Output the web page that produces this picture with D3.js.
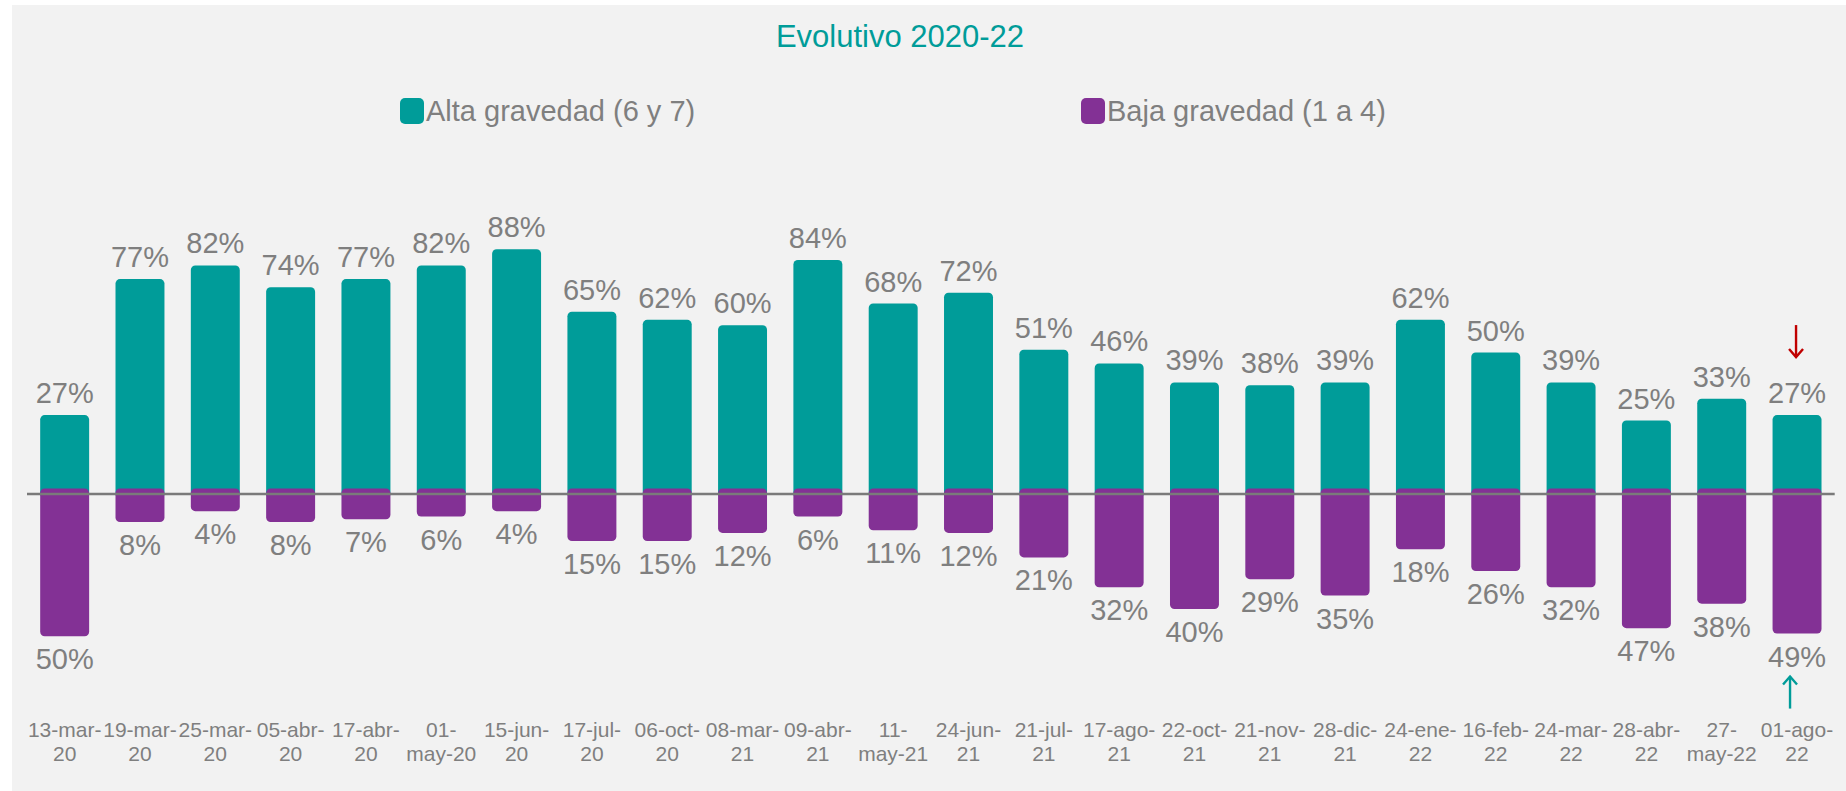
<!DOCTYPE html>
<html>
<head>
<meta charset="utf-8">
<script src="https://cdn.jsdelivr.net/npm/d3@7"></script>
<style>
  body { margin: 0; background: #ffffff; }
  svg { display: block; font-family: "Liberation Sans", Arial, sans-serif; }
</style>
</head>
<body>
<svg width="1846" height="791"></svg>
<script>
var svg = d3.select('svg');

// Data
var categories = ["13-mar-20", "19-mar-20", "25-mar-20", "05-abr-20", "17-abr-20", "01-may-20",
  "15-jun-20", "17-jul-20", "06-oct-20", "08-mar-21", "09-abr-21", "11-may-21", "24-jun-21",
  "21-jul-21", "17-ago-21", "22-oct-21", "21-nov-21", "28-dic-21", "24-ene-22", "16-feb-22",
  "24-mar-22", "28-abr-22", "27-may-22", "01-ago-22"];
var alta = [27, 77, 82, 74, 77, 82, 88, 65, 62, 60, 84, 68, 72, 51, 46, 39, 38, 39, 62, 50, 39, 25, 33, 27];
var baja = [50, 8, 4, 8, 7, 6, 4, 15, 15, 12, 6, 11, 12, 21, 32, 40, 29, 35, 18, 26, 32, 47, 38, 49];
var seriesNames = ["Alta gravedad (6 y 7)", "Baja gravedad (1 a 4)"];
var title = "Evolutivo 2020-22";

var teal = "#009c99";
var purple = "#833195";
var gray = "#7f7f7f";

// Background panel
svg.append("rect")
  .attr("x", 12).attr("y", 5)
  .attr("width", 1834).attr("height", 786)
  .attr("fill", "#f2f2f2");

// Scales
var x = d3.scaleBand()
  .domain(categories)
  .range([27, 1834.7])
  .paddingInner(0.35)
  .paddingOuter(0.175);

var yUp = d3.scaleLinear().domain([0, 100]).range([488.5, 216.5]);
var yDown = d3.scaleLinear().domain([0, 100]).range([500.3, 772.3]);

var data = categories.map((c, i) => ({ cat: c, alta: alta[i], baja: baja[i] }));

// Title
svg.append("text")
  .attr("x", 900).attr("y", 47)
  .attr("text-anchor", "middle")
  .attr("fill", teal)
  .style("font-size", "31px")
  .text(title);

// Legend
var legend = svg.selectAll(".legend")
  .data(seriesNames)
  .enter().append("g")
  .attr("class", "legend")
  .attr("transform", (d, i) => "translate(" + [400, 1081][i] + ",98)");

legend.append("rect")
  .attr("width", 24).attr("height", 26)
  .attr("rx", 5)
  .attr("fill", (d, i) => i === 0 ? teal : purple);

legend.append("text")
  .attr("x", 26).attr("y", 22.5)
  .attr("fill", gray)
  .style("font-size", "29px")
  .text(d => d);

// Teal bars (upwards)
svg.selectAll(".alta")
  .data(data)
  .enter().append("rect")
  .attr("class", "alta")
  .attr("x", d => x(d.cat))
  .attr("width", x.bandwidth())
  .attr("y", d => yUp(d.alta))
  .attr("height", d => yUp(0) - yUp(d.alta) + 10)
  .attr("rx", 4.5)
  .attr("fill", teal);

// Purple bars (downwards)
svg.selectAll(".baja")
  .data(data)
  .enter().append("rect")
  .attr("class", "baja")
  .attr("x", d => x(d.cat))
  .attr("width", x.bandwidth())
  .attr("y", yUp(0))
  .attr("height", d => yDown(d.baja) - yUp(0))
  .attr("rx", 4.5)
  .attr("fill", purple);

// Zero line
svg.append("line")
  .attr("x1", x.range()[0]).attr("x2", x.range()[1])
  .attr("y1", 494).attr("y2", 494)
  .attr("stroke", "#7a7a7a")
  .attr("stroke-width", 2.5);

// Value labels
svg.selectAll(".altaLabel")
  .data(data)
  .enter().append("text")
  .attr("class", "altaLabel")
  .attr("x", d => x(d.cat) + x.bandwidth() / 2)
  .attr("y", d => yUp(d.alta) - 12)
  .attr("text-anchor", "middle")
  .attr("fill", gray)
  .style("font-size", "29px")
  .text(d => d.alta + "%");

svg.selectAll(".bajaLabel")
  .data(data)
  .enter().append("text")
  .attr("class", "bajaLabel")
  .attr("x", d => x(d.cat) + x.bandwidth() / 2)
  .attr("y", d => yDown(d.baja) + 33)
  .attr("text-anchor", "middle")
  .attr("fill", gray)
  .style("font-size", "29px")
  .text(d => d.baja + "%");

// Category labels, wrapped in two lines like the original
var catLabels = svg.selectAll(".catLabel")
  .data(data)
  .enter().append("text")
  .attr("class", "catLabel")
  .attr("text-anchor", "middle")
  .attr("fill", gray)
  .style("font-size", "21px");

catLabels.each(function(d) {
  var t = d3.select(this);
  var cx = x(d.cat) + x.bandwidth() / 2;
  var parts = d.cat.split("-");
  var first = parts[0] + "-" + parts[1] + "-";
  var second = parts[2];
  // measure first line, break earlier if it does not fit the step
  var probe = t.append("tspan").text(first);
  if (probe.node().getComputedTextLength() > x.step()) {
    first = parts[0] + "-";
    second = parts[1] + "-" + parts[2];
  }
  probe.remove();
  t.append("tspan").attr("x", cx).attr("y", 737).text(first);
  t.append("tspan").attr("x", cx).attr("y", 761).text(second);
});

// Trend arrows on the last period (thin shaft, open head)
function arrow(cx, yTail, yHead, color) {
  var dir = yHead > yTail ? 1 : -1;
  var g = svg.append("g")
    .attr("fill", "none")
    .attr("stroke", color)
    .attr("stroke-width", 2.4);
  g.append("line")
    .attr("x1", cx).attr("x2", cx)
    .attr("y1", yTail).attr("y2", yHead);
  g.append("polyline")
    .attr("points", [[cx - 7, yHead - dir * 8], [cx, yHead], [cx + 7, yHead - dir * 8]].join(" "));
}

var last = data[data.length - 1];
var lastX = x(last.cat) + x.bandwidth() / 2;
arrow(lastX - 1, yUp(last.alta) - 90, yUp(last.alta) - 58, "#c00000");
arrow(lastX - 7, yDown(last.baja) + 75, yDown(last.baja) + 43, teal);
</script>
</body>
</html>
